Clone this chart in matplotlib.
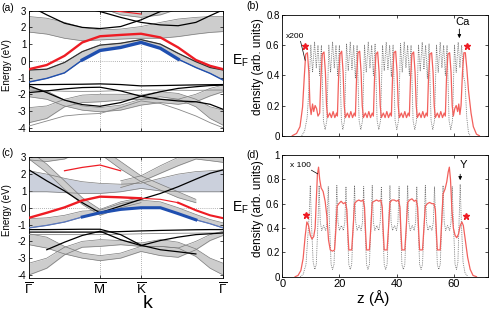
import numpy as np
import matplotlib
matplotlib.use('Agg')
import matplotlib.pyplot as plt

plt.rcParams['font.family'] = ['Liberation Sans', 'DejaVu Sans']
plt.rcParams['axes.unicode_minus'] = False
plt.rcParams['mathtext.fontset'] = 'custom'
plt.rcParams['mathtext.rm'] = 'Liberation Sans'
plt.rcParams['mathtext.default'] = 'regular'

nan = np.nan

# ---- band structure: k path Gamma - M - K - Gamma ----
k_pts = [0, 0.25, 0.5, 0.75, 1.0, 1.29, 1.577, 1.85, 2.1, 2.35, 2.55, 2.732]
k_ticks = [0, 1.0, 1.577, 2.732]
k_labels = [r'$\overline{\Gamma}$', r'$\overline{\mathrm{M}}$', r'$\overline{\mathrm{K}}$', r'$\overline{\Gamma}$']

# panel (a)
a_red = [-0.5, -0.25, 0.3, 1.1, 1.47, 1.55, 1.62, 1.4, 0.8, 0.05, -0.3, -0.5]
a_red_top = [nan, nan, nan, nan, 3.1, 2.95, 2.8, nan, nan, nan, nan, nan]
a_blue = [-1.27, -1.05, -0.72, 0.05, 0.62, 0.8, 1.1, 0.75, 0.1, -0.4, -0.75, -1.15]
a_b1_top = [-0.55, -0.5, -0.1, 0.55, 0.94, 1.05, 1.27, 1.0, 0.45, -0.05, -0.4, -0.55]
a_t1_lo = [1.72, 1.6, 1.35, 1.2, 1.25, 1.3, 1.35, 1.35, 1.45, 1.6, 1.7, 1.75]
a_t1_hi = [2.65, 2.55, 2.3, 2.0, 1.85, 1.9, 2.05, 2.3, 2.5, 2.6, 2.65, 2.65]
a_t2_lo = [3.5, 3.5, 3.5, 3.5, 3.2, 2.75, 2.6, 2.75, 3.1, 3.5, 3.5, 3.5]
a_blackA = [3.3, 2.75, 2.25, 2.0, 1.93, 2.05, 2.45, 2.95, 3.3, 3.6, 3.9, 4.0]
a_blackB = [3.6, 3.5, 3.4, 3.2, 2.95, 2.6, 2.3, 2.15, 2.1, 2.3, 2.7, 3.05]
a_flat = [-1.42, -1.42, -1.41, -1.4, -1.38, -1.42, -1.5, -1.48, -1.46, -1.44, -1.43, -1.42]
a_grey1 = [-1.75, -1.78, -1.82, -1.83, -1.82, -1.78, -1.75, -1.75, -1.76, -1.77, -1.75, -1.75]
a_c1 = [-1.5, -1.9, -2.35, -2.62, -2.72, -2.5, -2.12, -1.85, -1.65, -1.55, -1.48, -1.45]
a_c2 = [-1.9, -1.8, -1.68, -1.6, -1.58, -1.8, -2.12, -2.3, -2.4, -2.45, -2.6, -2.9]
a_p_lo = [-3.7, -3.45, -2.75, -2.5, -2.45, -2.35, -2.3, -2.15, -2.3, -2.75, -3.45, -3.85]
a_p_hi = [-2.8, -2.7, -2.3, -2.05, -2.0, -2.0, -2.05, -1.85, -1.95, -2.3, -2.75, -2.95]
a_q_lo = [-2.15, -2.3, -2.7, -2.95, -3.05, -2.95, -2.65, -2.5, -2.6, -2.45, -2.1, -1.85]
a_q_hi = [-1.6, -1.8, -2.35, -2.7, -2.8, -2.65, -2.3, -2.3, -2.3, -2.0, -1.65, -1.45]
a_grey2 = [-3.9, -3.6, -3.3, -3.2, -3.15, -2.8, -2.4, -2.55, -2.9, -3.3, -3.7, -4.0]

# panel (c)
c_red = [-0.6, -0.3, 0.02, 0.43, 0.66, 0.62, 0.56, 0.5, 0.3, -0.15, -0.45, -0.62]
c_red_top = [nan, nan, 2.2, 2.4, 2.54, 2.2, nan, nan, nan, nan, nan, nan]
c_blue = [-1.2, -1.05, -0.85, -0.55, -0.3, -0.1, 0.0, 0.0, -0.35, -0.72, -0.95, -1.2]
c_b5_top = [-0.65, -0.6, -0.45, -0.2, -0.15, 0.25, 0.45, 0.35, 0.0, -0.4, -0.7, -0.9]
c_black1 = [2.25, 1.6, 1.0, 0.3, -0.3, 0.1, 0.5, 0.85, 1.25, 1.7, 2.05, 2.25]
c_d1_lo = [2.9, 2.1, 1.1, 0.2, -0.45, 0.0, 0.3, nan, nan, nan, nan, nan]
c_d1_hi = [3.4, 2.6, 1.6, 0.6, -0.1, 0.35, 0.6, nan, nan, nan, nan, nan]
c_d2_lo = [0.95, 0.95, 0.9, 0.85, 0.85, 0.95, 1.15, 1.0, 0.95, 0.95, 0.95, 0.95]
c_d2_hi = [2.2, 2.0, 1.75, 1.55, 1.45, 1.4, 1.45, 1.75, 2.0, 2.15, 2.2, 2.25]
c_d3_lo = [nan, nan, nan, nan, 3.2, 2.3, 1.55, 1.05, 0.6, 0.3, nan, nan]
c_d3_hi = [nan, nan, nan, nan, 3.6, 2.75, 1.9, 1.4, 0.95, 0.5, nan, nan]
c_d4_lo = [nan, nan, nan, nan, nan, 1.2, 1.55, 2.05, 2.5, 2.9, 2.8, 2.7]
c_d4_hi = [nan, nan, nan, nan, nan, 1.6, 1.9, 2.5, 3.0, 3.4, 3.4, 3.4]
c_d6_lo = [2.85, 2.75, 2.9, 3.4, nan, nan, nan, nan, nan, nan, nan, nan]
c_flat1 = [-1.3, -1.3, -1.29, -1.28, -1.28, -1.6, -2.23, -2.5, -2.62, -2.75, nan, nan]
c_flat2 = [-1.45, -1.45, -1.45, -1.45, -1.45, -1.42, -1.38, -1.35, -1.33, -1.31, -1.3, -1.3]
c_grey1 = [-1.6, -1.6, -1.6, -1.6, -1.6, -1.58, -1.55, -1.53, -1.52, -1.51, -1.5, -1.5]
c_c2 = [nan, -2.5, -2.05, -1.65, -1.4, -1.9, -2.25, -1.95, -1.75, -1.6, -1.55, -1.5]
c_p_lo = [-4.0, -3.6, -2.8, -2.35, -2.3, -2.2, -2.3, -2.3, -2.4, -2.9, -3.6, -4.0]
c_p_hi = [-3.3, -3.0, -2.35, -2.0, -1.9, -1.95, -2.1, -1.9, -2.05, -2.45, -3.0, -3.3]
c_q_lo = [-2.2, -2.4, -2.75, -3.0, -3.15, -3.0, -2.6, -2.85, -2.95, -2.5, -1.95, -1.65]
c_q_hi = [-1.55, -1.75, -2.3, -2.7, -2.85, -2.7, -2.3, -2.3, -2.4, -2.0, -1.6, -1.4]

# ---- planar averaged densities ----
b_red_z = [3.5, 5.0, 6.2, 7.1, 7.7, 8.2, 8.8, 9.3, 9.7, 10.1, 10.6, 11.0, 11.5, 12.0, 12.5,
           13.1, 13.5, 14.0, 14.6, 15.1, 15.5, 15.9, 16.6, 17.2, 17.8, 18.4, 19.0,
           19.3, 19.7, 20.2, 20.8, 21.3, 21.7, 22.1, 22.8, 23.4, 24.0, 24.6, 25.2,
           25.6, 26.0, 26.5, 27.1, 27.6, 28.0, 28.4, 29.1, 29.7, 30.3, 30.9, 31.5,
           31.9, 32.3, 32.8, 33.4, 33.9, 34.3, 34.7, 35.4, 36.0, 36.6, 37.2, 37.8,
           38.2, 38.6, 39.1, 39.7, 40.2, 40.6, 41.0, 41.7, 42.3, 42.9, 43.5, 44.1,
           44.5, 44.9, 45.4, 46.0, 46.5, 46.9, 47.3, 48.0, 48.6, 49.2, 49.8, 50.4,
           50.8, 51.2, 51.7, 52.3, 52.8, 53.2, 53.6, 54.3, 54.9, 55.5, 56.1, 56.7,
           57.1, 57.5, 58.0, 58.6, 59.1, 59.5, 59.9, 60.4, 60.9, 61.4, 61.8, 62.2,
           62.6, 63.1, 63.6, 64.1, 64.6, 65.2, 66.1, 66.9, 68.0, 69.0]
b_red_n = [0.0, 0.015, 0.06, 0.19, 0.39, 0.54, 0.55, 0.42, 0.2, 0.14, 0.21, 0.16, 0.2, 0.18, 0.13,
           0.15, 0.38, 0.54, 0.555, 0.42, 0.2, 0.12, 0.15, 0.12, 0.16, 0.12, 0.15,
           0.13, 0.38, 0.54, 0.56, 0.42, 0.2, 0.12, 0.15, 0.12, 0.16, 0.12, 0.15,
           0.13, 0.38, 0.55, 0.56, 0.42, 0.2, 0.12, 0.15, 0.12, 0.16, 0.12, 0.15,
           0.13, 0.38, 0.54, 0.555, 0.42, 0.2, 0.12, 0.15, 0.12, 0.16, 0.12, 0.15,
           0.13, 0.38, 0.55, 0.56, 0.42, 0.2, 0.12, 0.15, 0.12, 0.16, 0.12, 0.15,
           0.13, 0.38, 0.54, 0.555, 0.42, 0.2, 0.12, 0.15, 0.12, 0.16, 0.12, 0.15,
           0.13, 0.38, 0.54, 0.55, 0.42, 0.2, 0.12, 0.15, 0.12, 0.16, 0.12, 0.15,
           0.13, 0.38, 0.54, 0.55, 0.42, 0.2, 0.13, 0.18, 0.2, 0.16, 0.21, 0.14,
           0.2, 0.42, 0.55, 0.55, 0.45, 0.3, 0.15, 0.06, 0.01, 0.0]
b_dot_z = [6.8, 7.8, 8.7, 9.3, 10.0, 10.6, 11.3, 11.9, 12.5, 13.1, 13.7, 14.4,
           15.0, 15.6, 16.3, 16.9, 17.6, 18.2, 18.8, 19.4, 20.0, 20.7,
           21.2, 21.8, 22.5, 23.1, 23.8, 24.4, 25.0, 25.6, 26.2, 26.9,
           27.5, 28.1, 28.8, 29.4, 30.1, 30.7, 31.3, 31.9, 32.5, 33.2,
           33.8, 34.4, 35.1, 35.7, 36.4, 37.0, 37.6, 38.2, 38.8, 39.5,
           40.1, 40.7, 41.4, 42.0, 42.7, 43.3, 43.9, 44.5, 45.1, 45.8,
           46.4, 47.0, 47.7, 48.3, 49.0, 49.6, 50.2, 50.8, 51.4, 52.1,
           52.7, 53.3, 54.0, 54.6, 55.3, 55.9, 56.5, 57.1, 57.7, 58.4,
           59.0, 59.6, 60.3, 60.9, 61.6, 62.2, 62.8, 63.4, 64.0, 64.6, 65.2, 65.8]
b_dot_n = [0.0, 0.03, 0.12, 0.3, 0.6, 0.42, 0.62, 0.45, 0.6, 0.4, 0.6, 0.1,
           0.04, 0.1, 0.6, 0.42, 0.62, 0.45, 0.6, 0.40, 0.6, 0.1,
           0.04, 0.1, 0.61, 0.43, 0.62, 0.44, 0.6, 0.38, 0.6, 0.1,
           0.04, 0.1, 0.6, 0.42, 0.62, 0.45, 0.6, 0.40, 0.61, 0.1,
           0.04, 0.1, 0.6, 0.43, 0.62, 0.44, 0.6, 0.39, 0.6, 0.1,
           0.04, 0.1, 0.61, 0.42, 0.62, 0.45, 0.6, 0.40, 0.6, 0.1,
           0.04, 0.1, 0.6, 0.43, 0.62, 0.44, 0.6, 0.38, 0.61, 0.1,
           0.04, 0.1, 0.6, 0.42, 0.62, 0.45, 0.6, 0.40, 0.6, 0.1,
           0.04, 0.1, 0.6, 0.42, 0.62, 0.45, 0.6, 0.40, 0.35, 0.12, 0.02, 0.0]
b_star_z = [7.95, 64.6]
b_star_n = [0.594, 0.594]

d_red_z = [4.5, 5.5, 6.5, 7.3, 8.0, 8.6, 9.2, 9.8, 10.4, 11.0, 11.5, 11.9, 12.3, 12.7, 13.1,
           13.6, 14.3, 15.0, 15.6, 16.2, 16.8, 17.6, 18.3,
           18.8, 19.2, 19.8, 20.6, 21.4, 22.1, 22.6, 23.0, 23.3, 24.3,
           24.8, 25.3, 26.0, 26.8, 27.6, 28.3, 28.8, 29.2, 29.5, 30.5,
           31.0, 31.5, 32.2, 33.0, 33.8, 34.5, 35.0, 35.4, 35.7, 36.7,
           37.2, 37.7, 38.4, 39.2, 40.0, 40.7, 41.2, 41.6, 41.9, 42.9,
           43.4, 43.9, 44.6, 45.4, 46.2, 46.9, 47.4, 47.8, 48.1, 49.1,
           49.6, 50.1, 50.8, 51.6, 52.4, 53.1, 53.6, 54.0, 54.3, 55.3,
           55.8, 56.3, 57.0, 57.6, 58.1, 58.5, 58.9, 59.4, 59.9, 60.5, 61.1, 61.7,
           62.3, 62.9, 63.4, 64.1, 64.9, 65.8, 66.8, 68.0]
d_red_n = [0.0, 0.01, 0.05, 0.15, 0.33, 0.45, 0.42, 0.34, 0.31, 0.33, 0.40, 0.62, 0.84, 0.90, 0.80,
           0.73, 0.70, 0.62, 0.50, 0.30, 0.22, 0.21, 0.22,
           0.40, 0.58, 0.60, 0.62, 0.60, 0.61, 0.55, 0.35, 0.22, 0.22,
           0.40, 0.60, 0.62, 0.63, 0.62, 0.63, 0.57, 0.35, 0.22, 0.22,
           0.40, 0.61, 0.62, 0.63, 0.62, 0.63, 0.57, 0.35, 0.22, 0.22,
           0.40, 0.61, 0.63, 0.63, 0.62, 0.63, 0.57, 0.35, 0.22, 0.22,
           0.40, 0.61, 0.63, 0.64, 0.62, 0.63, 0.57, 0.35, 0.22, 0.22,
           0.40, 0.58, 0.60, 0.61, 0.60, 0.60, 0.55, 0.35, 0.22, 0.22,
           0.45, 0.68, 0.72, 0.78, 0.86, 0.90, 0.80, 0.55, 0.40, 0.34, 0.32, 0.35,
           0.42, 0.45, 0.42, 0.30, 0.16, 0.06, 0.01, 0.0]
d_dot_z = [6.3, 7.3, 8.3, 9.0, 9.4, 9.8, 10.2, 10.8,
           11.4, 11.9, 12.5, 12.9, 13.3, 13.8, 14.5, 15.2, 15.7, 16.1, 16.5, 17.1,
           17.6, 18.1, 18.7, 19.1, 19.5, 20.0, 20.7, 21.4, 21.9, 22.3, 22.7, 23.3,
           23.8, 24.3, 24.9, 25.3, 25.7, 26.2, 26.9, 27.6, 28.1, 28.5, 28.9, 29.5,
           30.0, 30.5, 31.1, 31.5, 31.9, 32.4, 33.1, 33.8, 34.3, 34.7, 35.1, 35.7,
           36.2, 36.7, 37.3, 37.7, 38.1, 38.6, 39.3, 40.0, 40.5, 40.9, 41.3, 41.9,
           42.4, 42.9, 43.5, 43.9, 44.3, 44.8, 45.5, 46.2, 46.7, 47.1, 47.5, 48.1,
           48.6, 49.1, 49.7, 50.1, 50.5, 51.0, 51.7, 52.4, 52.9, 53.3, 53.7, 54.3,
           54.8, 55.3, 55.9, 56.3, 56.7, 57.2, 57.9, 58.6, 59.1, 59.5, 59.9, 60.5,
           61.0, 61.5, 61.9, 62.3, 62.7, 63.3, 64.0, 65.0]
d_dot_n = [0.0, 0.02, 0.1, 0.35, 0.5, 0.75, 0.45, 0.12,
           0.06, 0.1, 0.45, 0.75, 0.45, 0.38, 0.42, 0.38, 0.45, 0.74, 0.45, 0.1,
           0.06, 0.1, 0.45, 0.75, 0.45, 0.38, 0.42, 0.38, 0.45, 0.74, 0.45, 0.1,
           0.06, 0.1, 0.45, 0.75, 0.45, 0.38, 0.42, 0.38, 0.45, 0.74, 0.45, 0.1,
           0.06, 0.1, 0.45, 0.75, 0.45, 0.38, 0.42, 0.38, 0.45, 0.74, 0.45, 0.1,
           0.06, 0.1, 0.45, 0.75, 0.45, 0.38, 0.42, 0.38, 0.45, 0.74, 0.45, 0.1,
           0.06, 0.1, 0.45, 0.75, 0.45, 0.38, 0.42, 0.38, 0.45, 0.74, 0.45, 0.1,
           0.06, 0.1, 0.45, 0.75, 0.45, 0.38, 0.42, 0.38, 0.45, 0.74, 0.45, 0.1,
           0.06, 0.1, 0.45, 0.75, 0.45, 0.38, 0.42, 0.38, 0.45, 0.74, 0.45, 0.1,
           0.06, 0.12, 0.45, 0.76, 0.45, 0.12, 0.03, 0.0]
d_star_z = [8.3, 64.4]
d_star_n = [0.507, 0.50]

RED = '#ee1c24'
BLUE = '#1f4fb0'
DRED = '#f2605c'
GFILL = '#cdcdcd'
GEDGE = '#7c7c7c'
DOT = '#6a6a6a'

fig = plt.figure(figsize=(4.9, 3.18), dpi=100)
ax_a = fig.add_axes([0.0592, 0.588, 0.3959, 0.3784])
ax_c = fig.add_axes([0.0592, 0.1248, 0.3959, 0.3805])
ax_b = fig.add_axes([0.5761, 0.5733, 0.4196, 0.3795])
ax_d = fig.add_axes([0.5761, 0.1299, 0.4196, 0.3827])


def bundle(ax, lo, hi, fc=GFILL, ec=GEDGE):
    ax.fill_between(k_pts, lo, hi, color=fc, lw=0, zorder=1)
    ax.plot(k_pts, lo, color=ec, lw=0.5, zorder=2)
    ax.plot(k_pts, hi, color=ec, lw=0.5, zorder=2)


def line(ax, e, color='k', lw=0.9, z=3):
    ax.plot(k_pts, e, color=color, lw=lw, zorder=z, solid_joinstyle='round')


def band_axes(ax):
    ax.set_xlim(0, 2.732)
    ax.set_ylim(-4.2, 3.0)
    ax.set_yticks([-4, -3, -2, -1, 0, 1, 2, 3])
    ax.set_xticks(k_ticks)
    for kk in k_ticks[1:3]:
        ax.axvline(kk, color='#999999', lw=0.6, ls=(0, (1, 1.5)), zorder=0.5)
    ax.axhline(0, color='#999999', lw=0.6, ls=(0, (1, 1.5)), zorder=0.5)
    ax.tick_params(direction='in', length=2, width=0.5, labelsize=7, pad=2,
                   right=True, top=True)
    for s in ax.spines.values():
        s.set_linewidth(0.6)
    ax.text(1.045, 0, r'E$_{\mathrm{F}}$', transform=ax.get_yaxis_transform(),
            fontsize=10, va='center', ha='left')


# ---- (a) ----
ax = ax_a
band_axes(ax)
bundle(ax, a_p_lo, a_p_hi)
bundle(ax, a_q_lo, a_q_hi)
bundle(ax, a_t1_lo, a_t1_hi)
bundle(ax, a_t2_lo, [3.5] * len(k_pts))
bundle(ax, a_blue, a_b1_top)
line(ax, a_grey2, color='#888888', lw=0.6)
line(ax, a_grey1, color='#888888', lw=0.6)
line(ax, a_flat)
line(ax, a_c1)
line(ax, a_c2)
line(ax, a_blackA)
line(ax, a_blackB)
line(ax, a_b1_top, color='#333333', lw=0.9)
line(ax, a_blue, color=BLUE, lw=1.0, z=4)
ax.plot(k_pts[3:9], a_blue[3:9], color=BLUE, lw=2.4, zorder=4, solid_joinstyle='round')
line(ax, a_red, color=RED, lw=1.7, z=5)
line(ax, a_red_top, color=RED, lw=0.8, z=5)
ax.set_xticklabels([])

# ---- (c) ----
ax = ax_c
band_axes(ax)
bundle(ax, c_p_lo, c_p_hi)
bundle(ax, c_q_lo, c_q_hi)
bundle(ax, c_d2_lo, c_d2_hi, fc='#cbd0dc')
bundle(ax, c_d1_lo, c_d1_hi)
bundle(ax, c_d3_lo, c_d3_hi)
bundle(ax, c_d4_lo, c_d4_hi)
bundle(ax, c_d6_lo, [3.5] * len(k_pts))
bundle(ax, c_blue, c_b5_top)
line(ax, c_grey1, color='#888888', lw=0.6)
line(ax, c_flat1)
line(ax, c_flat2)
line(ax, c_c2)
line(ax, c_black1)
line(ax, c_blue, color='#5a78c0', lw=0.9, z=4)
ax.plot(k_pts[3:10], c_blue[3:10], color=BLUE, lw=2.2, zorder=4, solid_joinstyle='round')
ax.plot(k_pts[:7], c_red[:7], color=RED, lw=1.7, zorder=5, solid_joinstyle='round')
ax.plot(k_pts[6:9], c_red[6:9], color=RED, lw=0.8, zorder=5)
ax.plot(k_pts[8:], c_red[8:], color=RED, lw=1.5, zorder=5)
line(ax, c_red_top, color=RED, lw=0.9, z=5)
ax.set_xticklabels(k_labels, fontsize=9.5)
ax.tick_params(axis='x', pad=3)
fig.text(0.302, 0.045, 'k', fontsize=14, ha='center', va='center')

fig.text(0.014, 0.796, 'Energy (eV)', rotation=90, fontsize=7, ha='center', va='center')
fig.text(0.014, 0.34, 'Energy (eV)', rotation=90, fontsize=7, ha='center', va='center')


# ---- density panels ----
def dens_axes(ax, ymax, yt, ylabs):
    ax.set_xlim(0, 72)
    ax.set_ylim(0, ymax)
    ax.set_xticks([0, 20, 40, 60])
    ax.set_yticks(yt)
    ax.set_yticklabels(ylabs)
    ax.tick_params(direction='in', length=2.5, width=0.5, labelsize=7, pad=2,
                   right=True, top=True)
    for s in ax.spines.values():
        s.set_linewidth(0.6)


ax = ax_b
dens_axes(ax, 0.8, [0, 0.2, 0.4, 0.6, 0.8], ['0', '0.2', '0.4', '0.6', '0.8'])
ax.plot(b_dot_z, b_dot_n, color=DOT, lw=0.6, ls=(0, (1, 1.2)))
ax.plot(b_red_z, b_red_n, color=DRED, lw=0.9)
ax.plot(b_star_z, b_star_n, ls='none', marker='*', color=RED, ms=4.5)
ax.set_xticklabels([])
ax.text(1.3, 0.655, 'x200', fontsize=6, va='center')
ax.plot([6.4, 8.0], [0.625, 0.5], color='k', lw=0.5)
ax.text(63.2, 0.755, 'Ca', fontsize=8, ha='center', va='center')
ax.annotate('', xy=(62.0, 0.628), xytext=(62.0, 0.725),
            arrowprops=dict(arrowstyle='-|>', color='k', lw=0.6, mutation_scale=5))

ax = ax_d
dens_axes(ax, 1.0, [0, 0.2, 0.4, 0.6, 0.8, 1.0], ['0', '0.2', '0.4', '0.6', '0.8', '1'])
ax.plot(d_dot_z, d_dot_n, color=DOT, lw=0.6, ls=(0, (1, 1.2)))
ax.plot(d_red_z, d_red_n, color=DRED, lw=0.9)
ax.plot(d_star_z, d_star_n, ls='none', marker='*', color=RED, ms=4.5)
ax.text(2.8, 0.91, 'x 100', fontsize=6, va='center')
ax.plot([10.2, 12.4], [0.875, 0.845], color='k', lw=0.5)
ax.text(63.6, 0.92, 'Y', fontsize=8, ha='center', va='center')
ax.annotate('', xy=(62.3, 0.77), xytext=(62.3, 0.865),
            arrowprops=dict(arrowstyle='-|>', color='k', lw=0.6, mutation_scale=5))
ax.tick_params(axis='x', labelsize=8)
fig.text(0.761, 0.064, 'z (Å)', fontsize=11, ha='center', va='center')

fig.text(0.527, 0.79, 'density (arb. units)', rotation=90, fontsize=8.5, ha='center', va='center')
fig.text(0.527, 0.345, 'density (arb. units)', rotation=90, fontsize=8.5, ha='center', va='center')

fig.text(0.003, 0.975, '(a)', fontsize=7.5, va='center')
fig.text(0.503, 0.98, '(b)', fontsize=7.5, va='center')
fig.text(0.003, 0.519, '(c)', fontsize=7.5, va='center')
fig.text(0.503, 0.512, '(d)', fontsize=7.5, va='center')

fig.savefig('out.png', dpi=100)
